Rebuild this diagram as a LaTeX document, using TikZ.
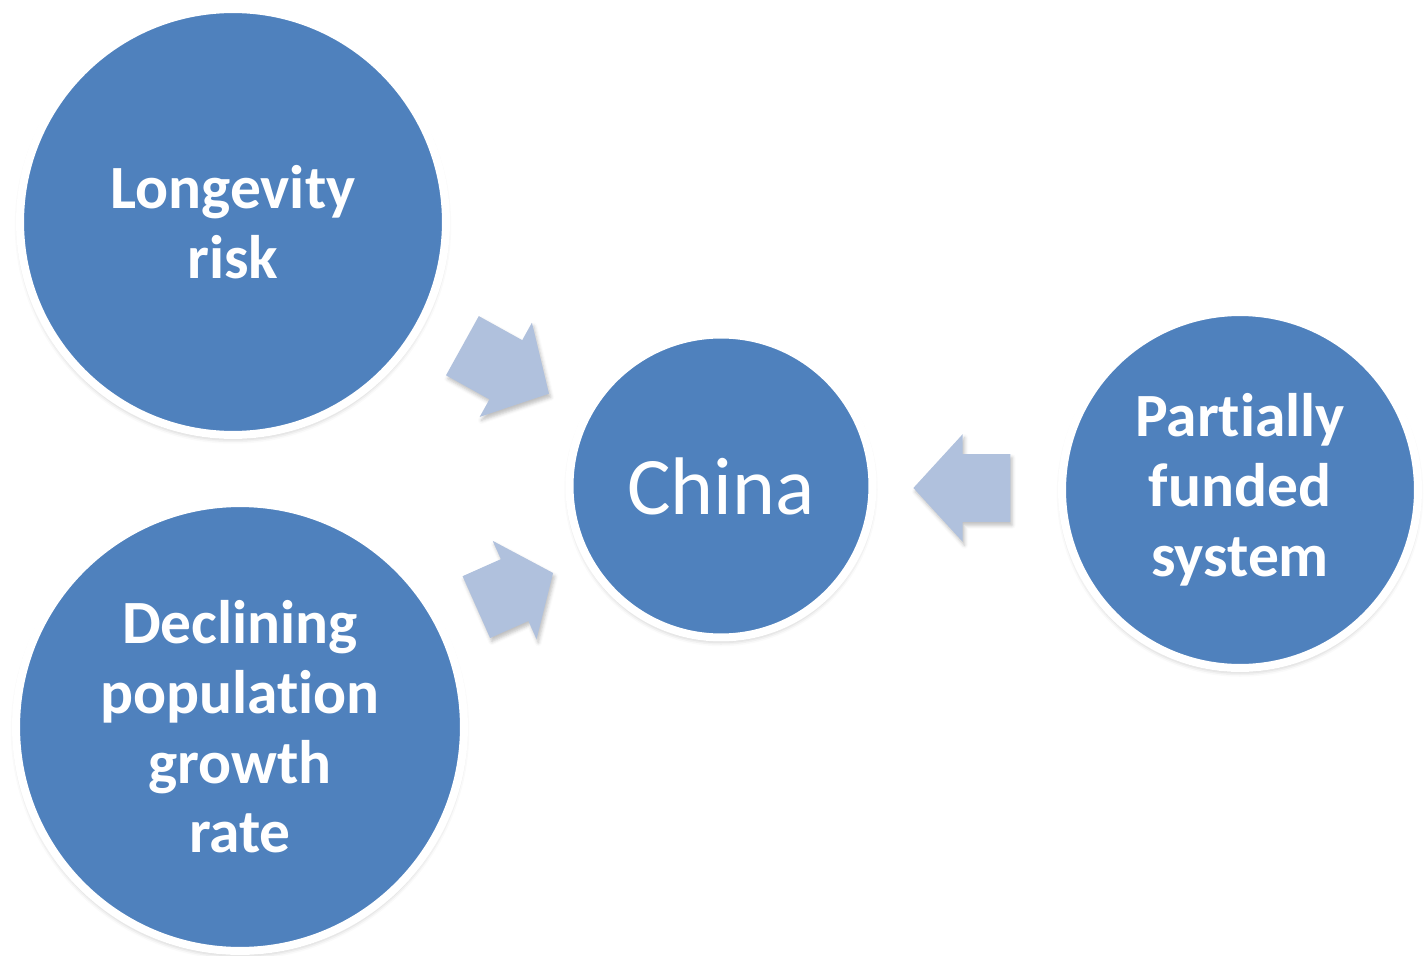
\documentclass[tikz,border=0pt]{standalone}
\usepackage{fontspec}
\setmainfont{Carlito}[Ligatures=NoCommon]
\usepackage{tikz}
\usetikzlibrary{shapes.geometric, shapes.arrows, arrows.meta, positioning, calc, shadows.blur}
\definecolor{ringblue}{HTML}{4F81BD}
\definecolor{pointerblue}{HTML}{B0C1DD}
\tikzset{
    factor/.style={circle, draw=white, line width=0.16cm, fill=ringblue, text=white, align=center, inner sep=0pt, font=\fontsize{35}{39.7}\selectfont\bfseries, blur shadow={shadow xshift=0pt, shadow yshift=-2pt, shadow blur radius=3pt, shadow opacity=30}},
    country/.style={factor, font=\fontsize{46.5}{50}\selectfont},
    pointer/.style={single arrow, fill=pointerblue, inner xsep=0pt, inner ysep=0.67cm, single arrow head extend=0.4cm, single arrow tip angle=95, blur shadow={shadow xshift=1pt, shadow yshift=-2pt, shadow blur radius=2pt, shadow opacity=25}}
}

\begin{document}
\begin{tikzpicture}[x=0.02cm, y=-0.02cm]
    \useasboundingbox (0,0) rectangle (1427,956);

    \node (longevity) [factor, minimum size=8.52cm] at (233,222) {Longevity\\risk};
    \node (declining) [factor, minimum size=8.96cm] at (240,727) {Declining\\population\\growth\\rate};
    \node (china) [country, minimum size=6.06cm] at (721,486) {China};
    \node (partial) [factor, minimum size=7.12cm] at (1240,490) {Partially\\funded\\system};

    \node (p1) [pointer, minimum height=1.98cm, rotate=-29] at ($(longevity)!0.531!(china)$) {};
    \node (p2) [pointer, minimum height=1.68cm, single arrow tip angle=104, rotate=24] at ($(declining)!0.546!(china)$) {};
    \node (p3) [pointer, minimum height=1.94cm, rotate=180] at ($(partial)!0.506!(china)$) {};
\end{tikzpicture}
\end{document}
